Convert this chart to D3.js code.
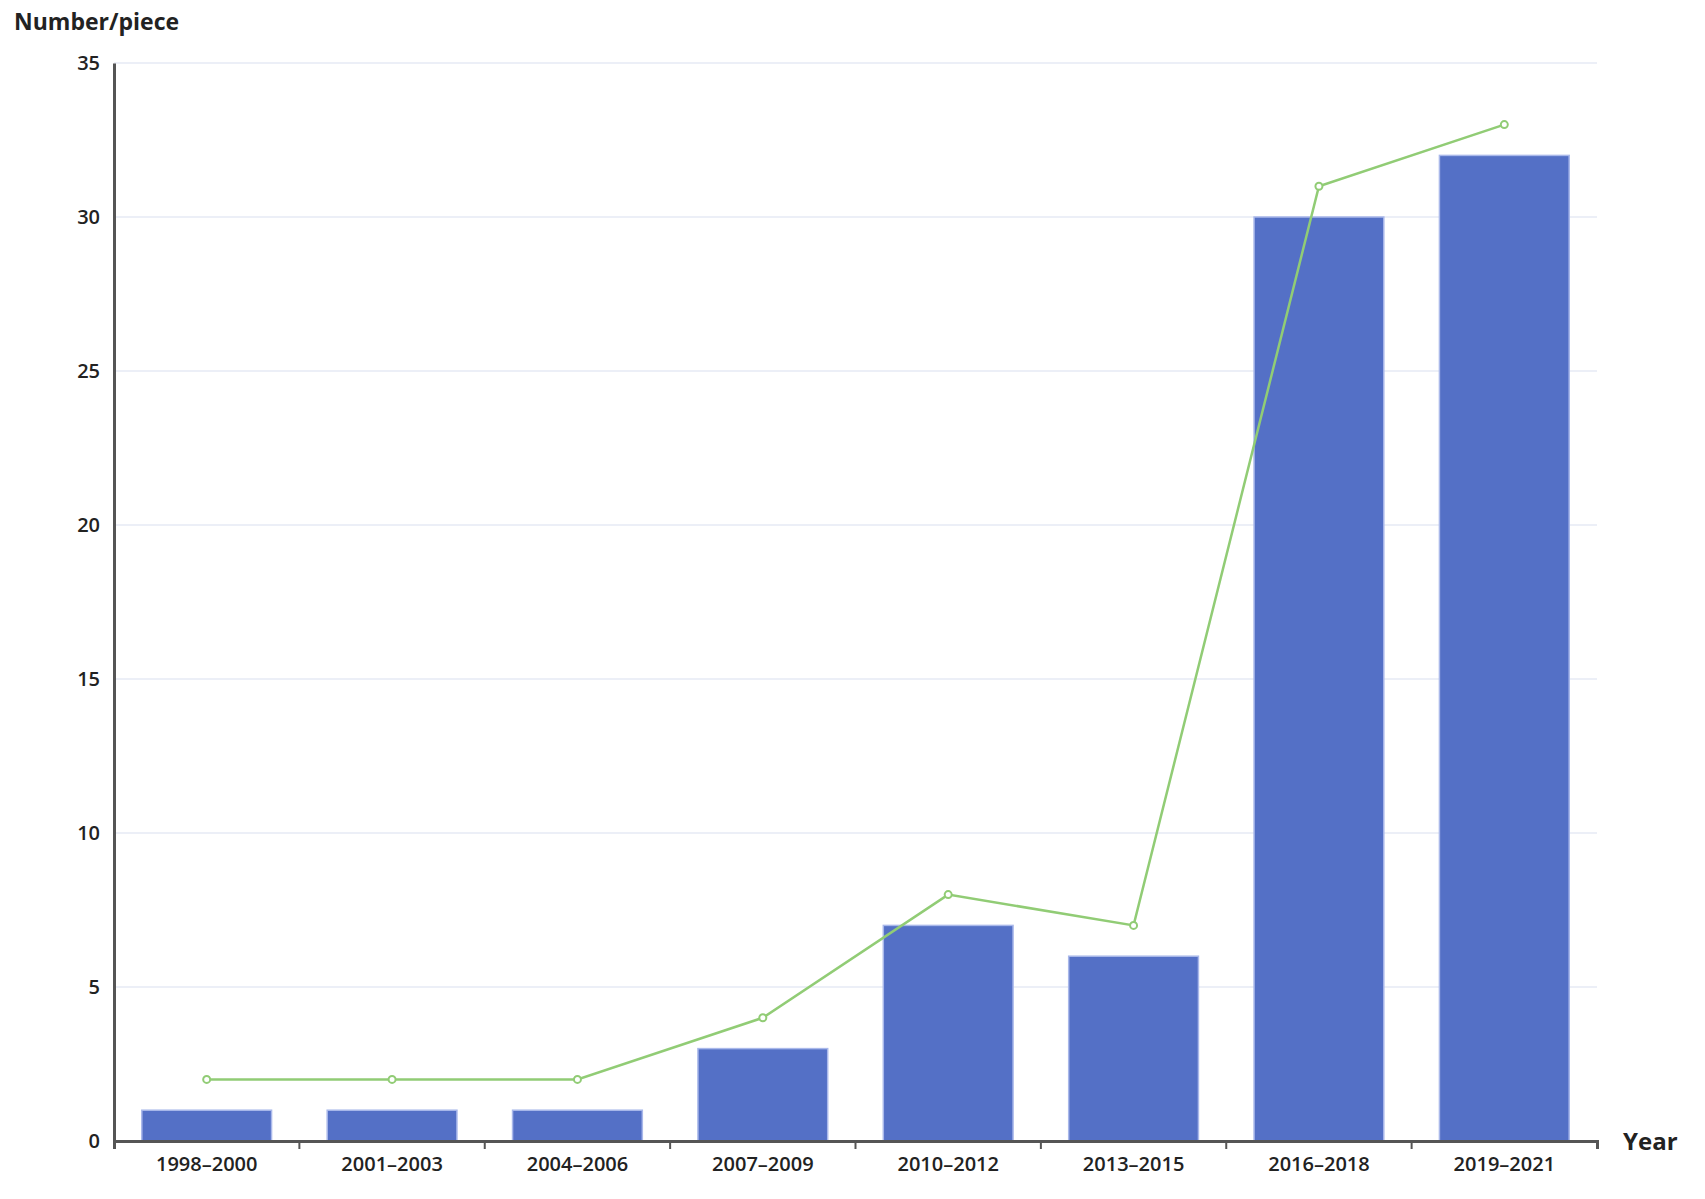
<!DOCTYPE html>
<html><head><meta charset="utf-8">
<script src="https://cdn.jsdelivr.net/npm/d3@7"></script>
<style>body{margin:0;background:#fff}text{font-family:"Open Sans",sans-serif;}</style>
</head><body>
<script>
const categories = ["1998–2000","2001–2003","2004–2006","2007–2009","2010–2012","2013–2015","2016–2018","2019–2021"];
const barValues = [1,1,1,3,7,6,30,32];
const lineValues = [2,2,2,4,8,7,31,33];
const yTicks = [0,5,10,15,20,25,30,35];

const width = 1705, height = 1199;
const margin = {left:114, right:108, top:63, bottom:58};

const svg = d3.select("body").append("svg").attr("width", width).attr("height", height);
const x = d3.scaleBand().domain(categories).range([margin.left, width - margin.right]).paddingInner(0.3).paddingOuter(0.15);
const xb = d3.scaleBand().domain(categories).range([margin.left, width - margin.right]);
const y = d3.scaleLinear().domain([0,35]).range([height - margin.bottom, margin.top]);

// gridlines
svg.append("g").selectAll("line").data(yTicks.slice(1)).join("line")
  .attr("x1", margin.left).attr("x2", width - margin.right)
  .attr("y1", d => y(d)).attr("y2", d => y(d))
  .attr("stroke", "#e6eaf5").attr("stroke-width", 1.5);

// bars
svg.append("g").selectAll("rect").data(barValues).join("rect")
  .attr("x", (d,i) => x(categories[i])).attr("width", x.bandwidth())
  .attr("y", d => y(d)).attr("height", d => y(0) - y(d))
  .attr("fill", "#5470c6").attr("stroke", "#a9b8ea").attr("stroke-width", 1.5);

// line
const cx = i => xb(categories[i]) + xb.bandwidth()/2;
svg.append("path").datum(lineValues)
  .attr("d", d3.line().x((d,i) => cx(i)).y(d => y(d)))
  .attr("fill", "none").attr("stroke", "#91cc75").attr("stroke-width", 2.5);
svg.append("g").selectAll("circle").data(lineValues).join("circle")
  .attr("cx", (d,i) => cx(i)).attr("cy", d => y(d)).attr("r", 3.5)
  .attr("fill", "#fff").attr("stroke", "#91cc75").attr("stroke-width", 2);

// y axis
const yAxis = svg.append("g").attr("transform", `translate(${margin.left},0)`)
  .call(d3.axisLeft(y).tickValues(yTicks).tickSize(0).tickPadding(14));
yAxis.select(".domain").attr("stroke", "#555").attr("stroke-width", 3);
yAxis.selectAll("text").attr("font-size", 20).attr("font-weight", 600).attr("fill", "#222");

// x axis
const xAxis = svg.append("g").attr("transform", `translate(0,${y(0)})`)
  .call(d3.axisBottom(xb).tickSizeOuter(8).tickSizeInner(8).tickPadding(8));
xAxis.select(".domain").attr("stroke", "#555").attr("stroke-width", 3);
xAxis.selectAll(".tick line").attr("stroke", "#555").attr("stroke-width", 2)
  .attr("transform", `translate(${-xb.bandwidth()/2},0)`);
xAxis.append("line").attr("x1", width - margin.right).attr("x2", width - margin.right)
  .attr("y1", 0).attr("y2", 8).attr("stroke", "#555").attr("stroke-width", 2);
xAxis.selectAll("text").attr("font-size", 20).attr("font-weight", 600).attr("fill", "#222");

svg.append("text").attr("x", 14).attr("y", 30).attr("font-size", 23).attr("font-weight", 700)
  .attr("fill", "#222").text("Number/piece");
svg.append("text").attr("x", width - margin.right + 26).attr("y", y(0) + 9).attr("font-size", 24)
  .attr("font-weight", 700).attr("fill", "#222").text("Year");
</script>
</body></html>
